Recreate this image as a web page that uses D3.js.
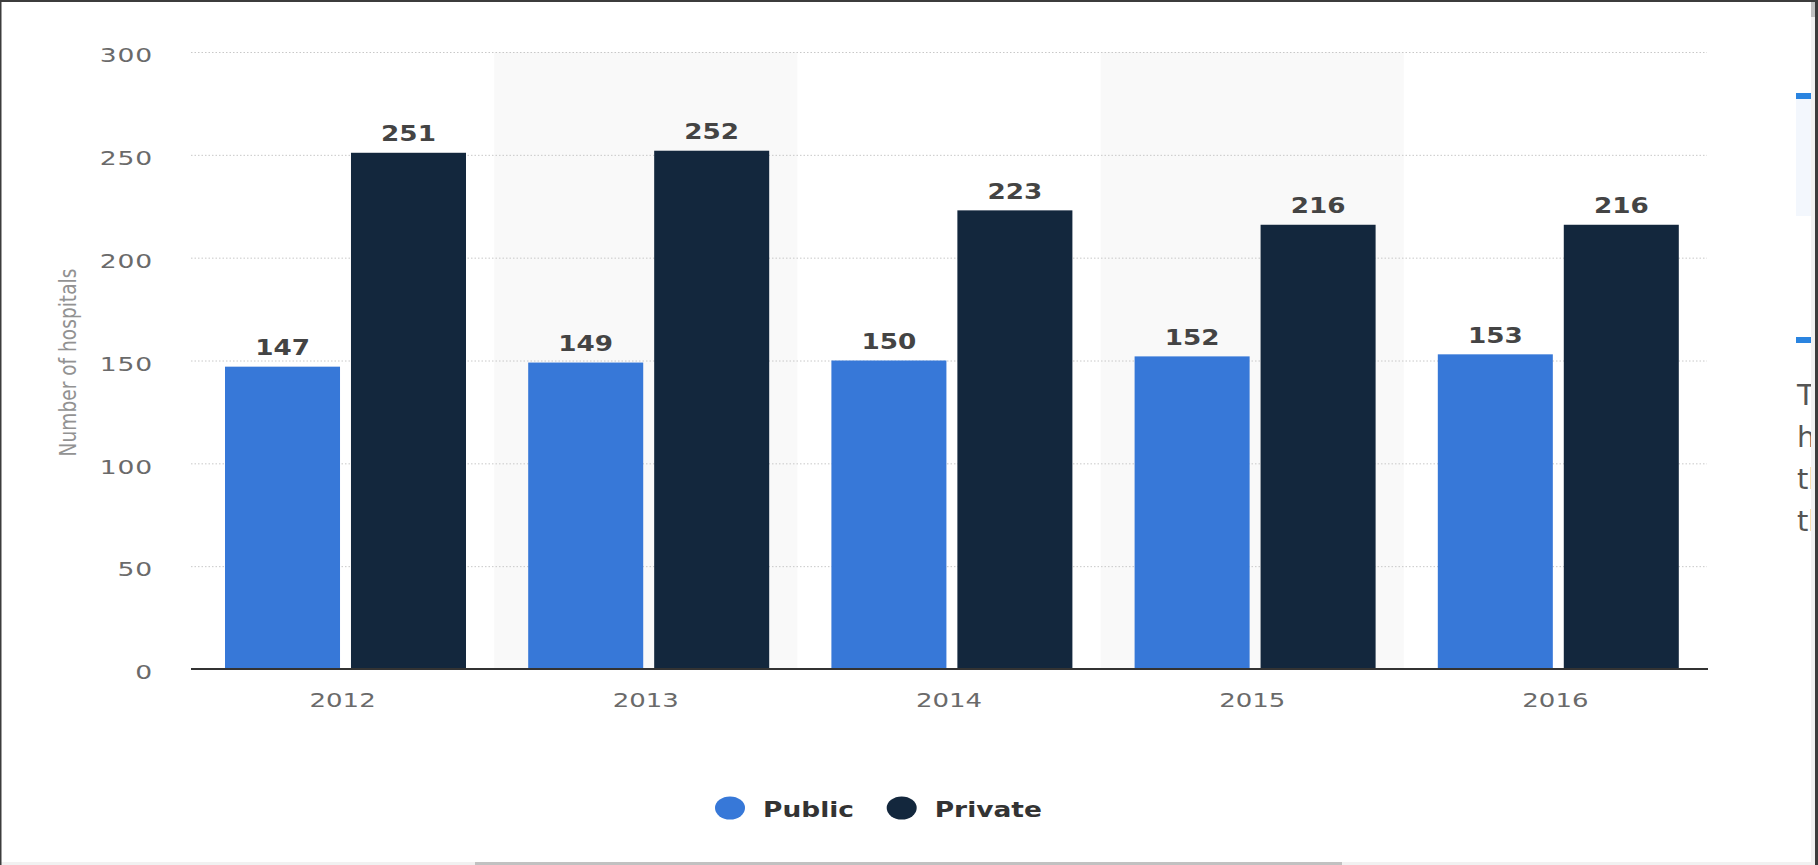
<!DOCTYPE html>
<html>
<meta charset="utf-8">
<style>
    body {
        margin: 0;
        background: #fff;
        overflow: hidden;
    }
    text {
        font-family: "DejaVu Sans", Verdana, sans-serif;
    }
    .tick line {
        stroke: #c8c8c8;
        stroke-dasharray: 1.5,2;
    }
    .domain {
        display: none;
    }
</style>
<body>
<script src="https://cdn.jsdelivr.net/npm/d3@7"></script>
<div id="chart"></div>
<script>
var years = ["2012", "2013", "2014", "2015", "2016"];
var series = ["Public", "Private"];
var publicCounts = [147, 149, 150, 152, 153];
var privateCounts = [251, 252, 223, 216, 216];
var seriesColors = ["#3778d8", "#13273d"];
var yTicks = [0, 50, 100, 150, 200, 250, 300];
var sideWords = ["The", "hospitals", "the", "the"];

var W = 1818, H = 865;
// plot area edges (note: "top" is taken by window.top)
var plotLeft = 191, plotRight = 1707, plotTop = 52, plotBottom = 669;

var svg = d3.select("#chart").append("svg")
    .attr("width", W)
    .attr("height", H);

var x0 = d3.scaleBand().domain(years).range([plotLeft, plotRight]);
var x1 = d3.scaleBand().domain(series).range([34, 275]).paddingInner(0.087);
var y = d3.scaleLinear().domain([0, 300]).range([plotBottom, plotTop]);

// alternating bands
svg.append("g").selectAll("rect")
    .data(years.filter(function(d, i) { return i % 2 == 1; }))
    .enter().append("rect")
    .attr("x", function(d) { return x0(d); })
    .attr("y", y(300))
    .attr("width", x0.bandwidth())
    .attr("height", y(0) - y(300))
    .attr("fill", "#f9f9f9");

// y axis with grid
var yAxis = svg.append("g")
    .attr("transform", "translate(" + plotLeft + ",0)")
    .call(d3.axisLeft(y).tickValues(yTicks).tickSize(-(plotRight - plotLeft)).tickPadding(0));
yAxis.selectAll(".tick").filter(function(d) { return d == 0; }).select("line").remove();
yAxis.selectAll(".tick text")
    .attr("x", 0)
    .attr("dy", null)
    .attr("y", 9.7)
    .attr("transform", "translate(-38,0) scale(1.33,1)")
    .style("font-size", "20px")
    .style("letter-spacing", "0.6px")
    .attr("fill", "#6a6a6a")
    .attr("text-anchor", "end");

// bars
var rows = years.map(function(yr, i) {
    return { year: yr, values: [publicCounts[i], privateCounts[i]] };
});
var groups = svg.append("g").selectAll("g")
    .data(rows)
    .enter().append("g")
    .attr("transform", function(d) { return "translate(" + x0(d.year) + ",0)"; });

groups.selectAll("rect")
    .data(function(d) { return d.values.map(function(v, j) { return { s: series[j], v: v, c: seriesColors[j] }; }); })
    .enter().append("rect")
    .attr("x", function(d) { return x1(d.s); })
    .attr("y", function(d) { return y(d.v); })
    .attr("width", x1.bandwidth())
    .attr("height", function(d) { return y(0) - y(d.v); })
    .attr("fill", function(d) { return d.c; });

groups.selectAll("text")
    .data(function(d) { return d.values.map(function(v, j) { return { s: series[j], v: v }; }); })
    .enter().append("text")
    .attr("transform", function(d) {
        return "translate(" + (x1(d.s) + x1.bandwidth() / 2) + "," + (y(d.v) - 11.5) + ") scale(1.25,1)";
    })
    .attr("text-anchor", "middle")
    .style("font-size", "21px")
    .style("font-weight", "bold")
    .attr("fill", "#444")
    .text(function(d) { return d.v; });

// x axis
svg.append("line")
    .attr("x1", plotLeft).attr("x2", plotRight + 1)
    .attr("y1", y(0)).attr("y2", y(0))
    .attr("stroke", "#333")
    .attr("stroke-width", 2);

var xAxis = svg.append("g")
    .attr("transform", "translate(0," + y(0) + ")")
    .call(d3.axisBottom(x0).tickSize(0));
xAxis.selectAll(".tick text")
    .attr("y", 37.7)
    .attr("dy", null)
    .attr("transform", "scale(1.3,1)")
    .style("font-size", "20px")
    .attr("fill", "#6a6a6a");

// y title
svg.append("text")
    .attr("transform", "translate(76," + ((plotTop + plotBottom) / 2 + 2) + ") scale(1.28,1) rotate(-90)")
    .attr("text-anchor", "middle")
    .style("font-size", "18.6px")
    .attr("fill", "#929292")
    .text("Number of hospitals");

// legend
var legendX = [730, 901.7];
var legend = svg.append("g").selectAll("g")
    .data(series)
    .enter().append("g")
    .attr("transform", function(d, i) { return "translate(" + legendX[i] + ",808)"; });
legend.append("ellipse")
    .attr("rx", 15).attr("ry", 11.5)
    .attr("fill", function(d, i) { return seriesColors[i]; });
legend.append("text")
    .attr("transform", "translate(33,9) scale(1.26,1)")
    .style("font-size", "21px")
    .style("font-weight", "bold")
    .attr("fill", "#333")
    .text(function(d) { return d; });

// page bits on the right edge, clipped by the scrollbar
svg.append("clipPath").attr("id", "side")
    .append("rect").attr("x", 1790).attr("y", 0).attr("width", 21).attr("height", H);
var side = svg.append("g").attr("clip-path", "url(#side)");
side.append("rect").attr("x", 1796).attr("y", 99).attr("width", 20).attr("height", 117).attr("fill", "#f3f7fd");
side.selectAll(".dash")
    .data([93, 337])
    .enter().append("rect")
    .attr("x", 1796).attr("y", function(d) { return d; })
    .attr("width", 20).attr("height", 6)
    .attr("fill", "#2a84e0");
side.selectAll(".word")
    .data(sideWords)
    .enter().append("text")
    .attr("x", 1797)
    .attr("y", function(d, i) { return 405 + i * 42; })
    .style("font-size", "29px")
    .attr("fill", "#555")
    .text(function(d) { return d; });

// scrollbars and frame
svg.append("rect").attr("x", 1811).attr("y", 0).attr("width", 4).attr("height", H).attr("fill", "#f1f1f1");
svg.append("rect").attr("x", 1811).attr("y", 2).attr("width", 4).attr("height", 15).attr("fill", "#c1c1c1");
svg.append("rect").attr("x", 1815).attr("y", 0).attr("width", 3).attr("height", H).attr("fill", "#3c3c3c");
svg.append("rect").attr("x", 0).attr("y", 862).attr("width", 1811).attr("height", 3).attr("fill", "#f1f1f1");
svg.append("rect").attr("x", 475).attr("y", 862).attr("width", 867).attr("height", 3).attr("fill", "#c1c1c1");
svg.append("rect").attr("x", 0).attr("y", 0).attr("width", W).attr("height", 2).attr("fill", "#3c3c3c");
svg.append("rect").attr("x", 0).attr("y", 0).attr("width", 1.5).attr("height", H).attr("fill", "#3c3c3c");
</script>
</body>
</html>
